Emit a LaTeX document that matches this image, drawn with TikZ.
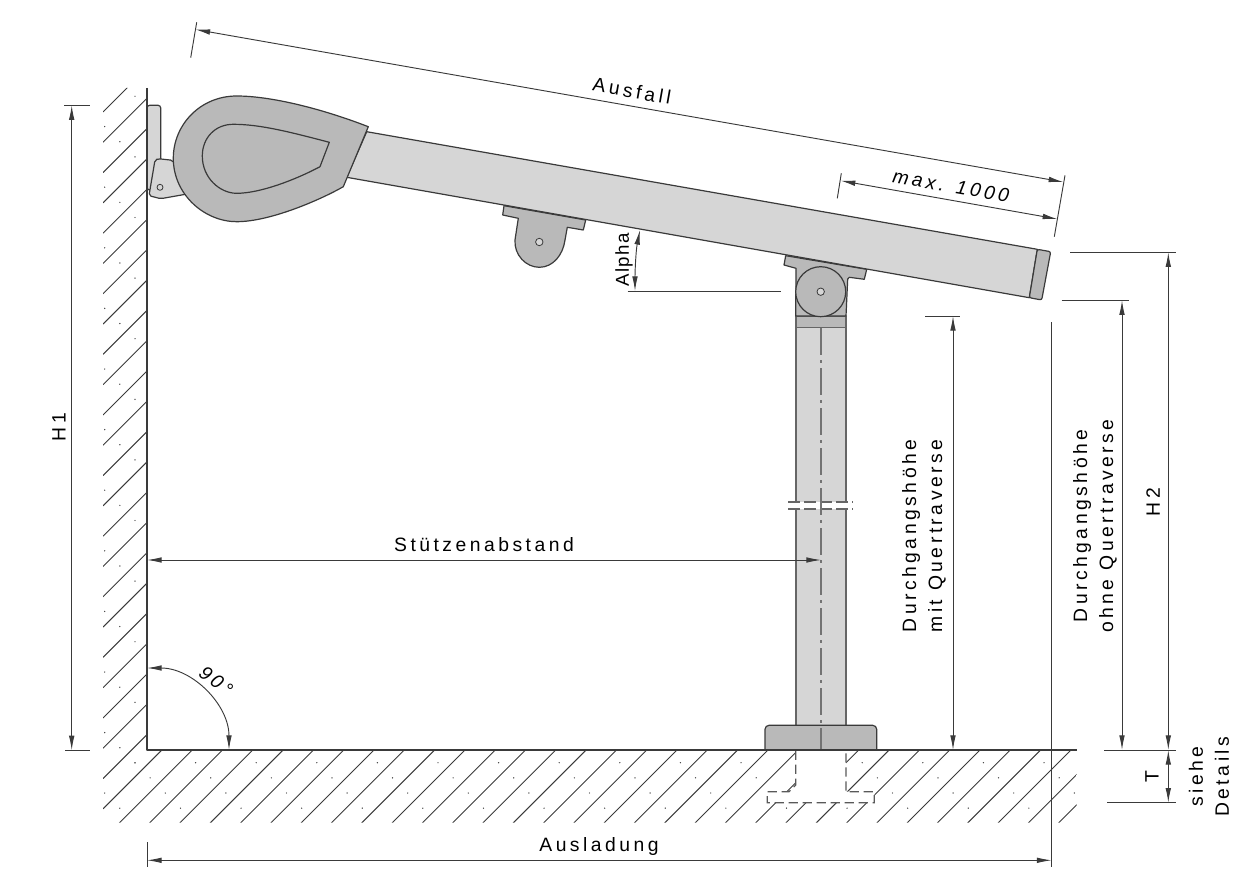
\documentclass[tikz,border=0pt]{standalone}
\usepackage{fontspec}
\setmainfont[LetterSpace=18]{Liberation Sans}
\usetikzlibrary{arrows.meta}
\definecolor{armgrey}{HTML}{D6D6D6}
\definecolor{headgrey}{HTML}{B9B9B9}
\definecolor{outline}{HTML}{3A3A3A}
\begin{document}
\begin{tikzpicture}[x=0.75pt, y=-0.75pt,
        part/.style={draw=outline, line width=0.9pt, line join=round},
        hatch/.style={draw=outline, line width=0.7pt},
        hole/.style={draw=outline, line width=0.6pt, fill=armgrey},
        dimline/.style={draw=outline, line width=0.7pt, {Latex[length=11pt,width=4.2pt]}-{Latex[length=11pt,width=4.2pt]}},
        extline/.style={draw=outline, line width=0.7pt},
        txt/.style={font=\fontsize{14.5}{19.5}\selectfont, inner sep=0pt, align=center, text=black}]
    \useasboundingbox (0,0) rectangle (1253,895);

    \begin{scope}
        \clip (103,88) -- (146.7,88) -- (146.7,750) -- (1076.7,750) -- (1076.7,822.5) -- (103,822.5) -- cycle;
        \foreach \k in {0,...,56}
            \draw[hatch] ({103},{112+30.3*\k}) -- ({103+30.3*\k+112-60},60);
        \foreach \j in {-10,...,1}
            \foreach \i in {0,1,2}
                \fill[outline] ({104.7+15.15*\i},{672+15.15*\i+60.6*\j}) circle[radius=0.7];
        \foreach \k in {-1,...,15}
            \foreach \m in {0,1,2,3}
                \fill[outline] ({135+60.6*\k+15.15*\m},{762.7+15.15*\m}) circle[radius=0.7];
    \end{scope}

    \fill[white] (795.7,750.5) -- (846,750.5) -- (846,791.7) -- (874.3,791.7) -- (874.3,802.7) -- (767.3,802.7) -- (767.3,791.7) -- (789,791.7) -- (795.7,785) -- cycle;
    \draw[black!65, line width=0.9pt, dashed, dash pattern=on 7pt off 3.5pt] (795.7,750.5) -- (795.7,785) -- (789,791.7) -- (767.3,791.7) -- (767.3,802.7) -- (874.3,802.7) -- (874.3,791.7) -- (846,791.7) -- (846,750.5);

    \draw[part, draw=black!60, fill=armgrey] (796,320) rectangle (846,730);
    \draw[part, draw=black!60, fill=headgrey] (796,316) rectangle (846,327.3);
    \fill[white] (788,502) rectangle (853,509);
    \draw[draw=black!60, line width=0.9pt, dash pattern=on 9pt off 3pt] (788,502) -- (853,502);
    \draw[draw=black!60, line width=0.9pt, dash pattern=on 9pt off 3pt] (788,509) -- (853,509);
    \draw[part, fill=headgrey, rounded corners=3pt] (765,750) -- (765,725.3) -- (876.7,725.3) -- (876.7,750);
    \draw[draw=black!55, line width=0.9pt, dash pattern=on 20pt off 4pt on 2pt off 4pt] (821,328) -- (821,750);

    \draw[part, fill=headgrey] (504,205.7) -- (502.7,215) -- (518.3,218.3) -- (515,240) .. controls (514,255) and (526,267.3) .. (539.3,267.3) .. controls (553,267.3) and (563,255) .. (565,240) -- (567.3,227.3) -- (583.3,230) -- (585.7,220) -- cycle;
    \draw[hole] (539.3,242) circle[radius=3.7];
    \draw[part, fill=headgrey] (785.7,255.7) -- (784,265) -- (796,268.3) -- (795.7,316) -- (846,316) -- (847.7,279) -- (849.3,277.3) -- (864.3,279.3) -- (866.7,269.3) -- cycle;
    \draw[part, fill=headgrey] (820.7,291.7) circle[radius=25];
    \draw[hole] (820.7,291.7) circle[radius=3.7];

    \draw[part, fill=armgrey] (366.7,131.7) -- (1037.3,249.3) -- (1029.3,297.7) -- (346.7,177.3) -- cycle;
    \draw[part, fill=headgrey, rounded corners=1.5pt] (1037.3,249.3) -- (1050.7,251.7) -- (1041.7,300) -- (1029.3,297.7) -- cycle;

    \draw[part, fill=armgrey, rounded corners=2pt] (147,105.3) -- (160.7,105.3) -- (160.7,165) -- (152,190) -- (147,190) -- cycle;
    \draw[part, fill=armgrey, rounded corners=1.5pt] (155,160) -- (158.3,158.7) -- (172.7,160.3) -- (190,193.5) -- (160.7,198.7) -- (149,195.7) -- cycle;
    \draw[hole] (160,187.3) circle[radius=3];
    \draw[part, fill=headgrey] (368.3,126.7) .. controls (320,108) and (270,96) .. (236.7,96) .. controls (200,96) and (173.3,125) .. (173.3,158.3) .. controls (173.3,195) and (205,221.7) .. (236.7,221.7) .. controls (270,221.7) and (320,200) .. (343.3,186.7) -- cycle;
    \draw[part] (329.3,142.3) .. controls (290,132) and (260,124.3) .. (233.3,124.3) .. controls (215,124.3) and (202.3,138) .. (202.3,156) .. controls (202.3,178) and (220,193.3) .. (236.7,193.3) .. controls (260,193.3) and (295,180) .. (320,166.7) -- cycle;

    \draw[part] (147,88) -- (147,750) -- (1076.7,750);

    \coordinate (h1top) at (71.7,105.3);
    \coordinate (h1bot) at (71.7,750.3);
    \coordinate (ausfallA) at (195.5,29.5);
    \coordinate (ausfallB) at (1063.3,182);
    \coordinate (maxA) at (840.7,180.7);
    \coordinate (maxB) at (1057.3,219);
    \coordinate (alphaA) at (640,230);
    \coordinate (alphaB) at (635,291);
    \coordinate (abstandA) at (147,560);
    \coordinate (abstandB) at (821,560);
    \coordinate (ausladA) at (147,860.3);
    \coordinate (ausladB) at (1051.5,860.3);
    \coordinate (mitA) at (953,316);
    \coordinate (mitB) at (953,750);
    \coordinate (ohneA) at (1122,300.3);
    \coordinate (ohneB) at (1122,750);
    \coordinate (hzweiA) at (1168.3,252.3);
    \coordinate (hzweiB) at (1168.3,750);
    \coordinate (tA) at (1168.3,750);
    \coordinate (tB) at (1168.3,802.7);
    \coordinate (rechtA) at (147,668);

    \draw[extline] (64.3,105.3) -- (90,105.3);
    \draw[extline] (65,750.3) -- (90,750.3);
    \draw[extline] (196.7,22.3) -- (190.7,57.7);
    \draw[extline] (1065,175.3) -- (1054.3,236.7);
    \draw[extline] (841.3,173.3) -- (837.3,198.3);
    \draw[extline] (627.7,291) -- (781,291);
    \draw[extline] (147,842) -- (147,867);
    \draw[extline] (1051.5,322.3) -- (1051.5,867.3);
    \draw[extline] (925,316) -- (960,316);
    \draw[extline] (1061.7,300.3) -- (1129.3,300.3);
    \draw[extline] (1070,252.3) -- (1175.7,252.3);
    \draw[extline] (1104,750.3) -- (1175.7,750.3);
    \draw[extline] (1107.3,802.7) -- (1175.7,802.7);

    \draw[dimline] (h1top) -- (h1bot);
    \draw[dimline] (ausfallA) -- (ausfallB);
    \draw[dimline] (maxA) -- (maxB);
    \draw[dimline] (alphaA) .. controls (636,250) and (635,270) .. (alphaB);
    \draw[dimline] (abstandA) -- (abstandB);
    \draw[dimline] (ausladA) -- (ausladB);
    \draw[dimline] (mitA) -- (mitB);
    \draw[dimline] (ohneA) -- (ohneB);
    \draw[dimline] (hzweiA) -- (hzweiB);
    \draw[dimline] (tA) -- (tB);
    \draw[dimline] (rechtA) arc[start angle=-90, end angle=0, radius=82];

    \node[txt, rotate=-10] (ausfall) at (632,91) {Ausfall};
    \node[txt, rotate=-10, font=\fontsize{14.5}{19.5}\selectfont\itshape] (maxtext) at (951,186) {max. 1000};
    \node[txt, rotate=90, font=\fontsize{14}{19.5}\selectfont\addfontfeature{LetterSpace=8}] (alpha) at (624,260) {Alpha};
    \node[txt, rotate=90] (h1) at (59,427) {H1};
    \node[txt] (abstand) at (484,545) {Stützenabstand};
    \node[txt] (auslad) at (599,846) {Ausladung};
    \node[txt, rotate=-38, font=\fontsize{14.5}{19.5}\selectfont\itshape] (rechtw) at (216,681) {90°};
    \node[txt, rotate=90] (mittext) at (924,536) {Durchgangshöhe\\mit Quertraverse};
    \node[txt, rotate=90] (ohnetext) at (1095,526) {Durchgangshöhe\\ohne Quertraverse};
    \node[txt, rotate=90] (h2) at (1153,502) {H2};
    \node[txt, rotate=90] (ttext) at (1152,776.7) {T};
    \node[txt, rotate=90] (details) at (1209,776.7) {siehe\\Details};
\end{tikzpicture}
\end{document}
